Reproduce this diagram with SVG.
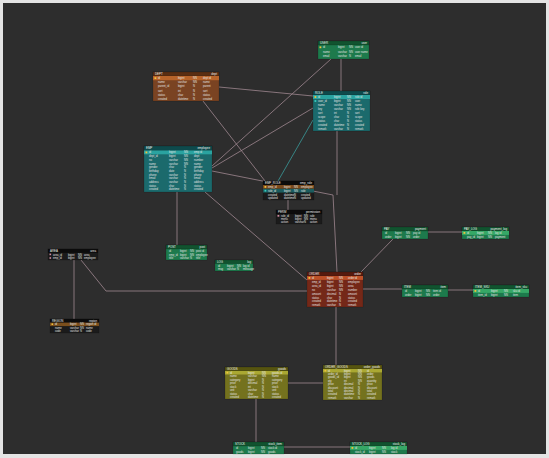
<svg xmlns="http://www.w3.org/2000/svg" width="549" height="458" viewBox="0 0 549 458">
<style>
text{font-family:"Liberation Sans",Arial,sans-serif;font-size:2.7px;fill:#e4e4e4}
.h{font-size:2.9px;fill:#f0f0f0}
.r{text-anchor:end}
.c{fill:none;stroke:#a08890;stroke-width:0.8}
.g .b{fill:#1d7a4c}.g .hd{fill:#11532f}.g .hl{fill:#36a866}
.br .b{fill:#7a4322}.br .hd{fill:#5a2e12}.br .hl{fill:#b8642a}
.tl .b{fill:#1b6a6c}.tl .hd{fill:#0e4a4c}.tl .hl{fill:#2aa3a0}
.dk .b{fill:#1b1b1b}.dk .hd{fill:#0c0c0c}
.rd .b{fill:#742818}.rd .hd{fill:#561a0e}.rd .hl{fill:#bc5028}
.yl .b{fill:#74721e}.yl .hd{fill:#565410}.yl .hl{fill:#aaa832}
.b,.hd{stroke:#000;stroke-opacity:.35;stroke-width:.4}
.k{fill:#f2c23a}.f{fill:#36d0c0}
</style>
<rect width="549" height="458" fill="#e4e4e4"/>
<rect x="3" y="3" width="543" height="451" fill="#2d2d2d"/>
<g id="connectors">
<path class="c" d="M341,59V91"/>
<path class="c" d="M331,59L212,166"/>
<path class="c" d="M219,87L313,96"/>
<path class="c" d="M313,108L212,168"/>
<path class="c" d="M203,101L265,181"/>
<path class="c" d="M212,171L333,195L337,272"/>
<path class="c" d="M337,131V195"/>
<path class="c" d="M313,120L278,181" style="stroke:#3a9a9a"/>
<path class="c" d="M288,200V210"/>
<path class="c" d="M177,192V245"/>
<path class="c" d="M205,192L307,280"/>
<path class="c" d="M74,260V319"/>
<path class="c" d="M81,260L106,291H307"/>
<path class="c" d="M393,239L361,272"/>
<path class="c" d="M428,232H462"/>
<path class="c" d="M363,289H402"/>
<path class="c" d="M448,290H473"/>
<path class="c" d="M336,307V365"/>
<path class="c" d="M288,383H323"/>
<path class="c" d="M256,399V442"/>
<path class="c" d="M284,447H350"/>
</g>
<g id="t_user" class="g" transform="translate(318,41)">
<rect class="b" width="51" height="18"/><rect class="hd" width="51" height="4"/>
<text class="h" x="2" y="3">USER</text><text class="h r" x="49" y="3">user</text>
<rect class="k" x="1.5" y="5.4" width="1.8" height="1.8"/>
<text y="7.4"><tspan x="5">id</tspan><tspan x="20">bigint</tspan><tspan x="31">NN</tspan><tspan x="37">user id</tspan></text>
<text y="11.9"><tspan x="5">name</tspan><tspan x="20">varchar</tspan><tspan x="31">NN</tspan><tspan x="37">user name</tspan></text>
<text y="16.4"><tspan x="5">email</tspan><tspan x="20">varchar</tspan><tspan x="31">N</tspan><tspan x="37">email</tspan></text>
</g>
<g id="t_dept" class="br" transform="translate(153,72)">
<rect class="b" width="66" height="29"/><rect class="hd" width="66" height="4"/>
<text class="h" x="2" y="3">DEPT</text><text class="h r" x="64" y="3">dept</text>
<rect class="hl" x="0" y="4" width="66" height="4.2"/>
<rect class="k" x="1.5" y="5.2" width="1.8" height="1.8"/>
<text y="7.2"><tspan x="5">id</tspan><tspan x="25">bigint</tspan><tspan x="40">NN</tspan><tspan x="50">dept id</tspan></text>
<text y="11.3"><tspan x="5">name</tspan><tspan x="25">varchar</tspan><tspan x="40">NN</tspan><tspan x="50">name</tspan></text>
<text y="15.4"><tspan x="5">parent_id</tspan><tspan x="25">bigint</tspan><tspan x="40">N</tspan><tspan x="50">parent</tspan></text>
<text y="19.5"><tspan x="5">sort</tspan><tspan x="25">int</tspan><tspan x="40">N</tspan><tspan x="50">sort</tspan></text>
<text y="23.6"><tspan x="5">status</tspan><tspan x="25">char</tspan><tspan x="40">N</tspan><tspan x="50">status</tspan></text>
<text y="27.7"><tspan x="5">created</tspan><tspan x="25">datetime</tspan><tspan x="40">N</tspan><tspan x="50">created</tspan></text>
</g>
<g id="t_role" class="tl" transform="translate(313,91)">
<rect class="b" width="57" height="40"/><rect class="hd" width="57" height="4"/>
<text class="h" x="2" y="3">ROLE</text><text class="h r" x="55" y="3">role</text>
<rect class="hl" x="0" y="4" width="57" height="4"/>
<rect class="k" x="1.5" y="5.1" width="1.8" height="1.8"/>
<text y="7.1"><tspan x="5">id</tspan><tspan x="21">bigint</tspan><tspan x="34">NN</tspan><tspan x="42">role id</tspan></text>
<rect class="f" x="1.5" y="9.1" width="1.8" height="1.8"/>
<text y="11.1"><tspan x="5">user_id</tspan><tspan x="21">bigint</tspan><tspan x="34">NN</tspan><tspan x="42">user</tspan></text>
<text y="15.1"><tspan x="5">name</tspan><tspan x="21">varchar</tspan><tspan x="34">NN</tspan><tspan x="42">name</tspan></text>
<text y="19.1"><tspan x="5">key</tspan><tspan x="21">varchar</tspan><tspan x="34">NN</tspan><tspan x="42">role key</tspan></text>
<text y="23.1"><tspan x="5">sort</tspan><tspan x="21">int</tspan><tspan x="34">N</tspan><tspan x="42">sort</tspan></text>
<text y="27.1"><tspan x="5">scope</tspan><tspan x="21">char</tspan><tspan x="34">N</tspan><tspan x="42">scope</tspan></text>
<text y="31.1"><tspan x="5">status</tspan><tspan x="21">char</tspan><tspan x="34">N</tspan><tspan x="42">status</tspan></text>
<text y="35.1"><tspan x="5">created</tspan><tspan x="21">datetime</tspan><tspan x="34">N</tspan><tspan x="42">created</tspan></text>
<text y="39.1"><tspan x="5">remark</tspan><tspan x="21">varchar</tspan><tspan x="34">N</tspan><tspan x="42">remark</tspan></text>
</g>
<g id="t_emp" class="tl" transform="translate(144,146)">
<rect class="b" width="68" height="46"/><rect class="hd" width="68" height="4.5"/>
<text class="h" x="2" y="3.3">EMP</text><text class="h r" x="66" y="3.3">employee</text>
<rect class="hl" x="0" y="4.5" width="68" height="3.8"/>
<rect class="k" x="1.5" y="5.5" width="1.8" height="1.8"/>
<text y="7.4"><tspan x="5">id</tspan><tspan x="25">bigint</tspan><tspan x="40">NN</tspan><tspan x="50">emp id</tspan></text>
<text y="11.1"><tspan x="5">dept_id</tspan><tspan x="25">bigint</tspan><tspan x="40">NN</tspan><tspan x="50">dept</tspan></text>
<text y="14.8"><tspan x="5">no</tspan><tspan x="25">varchar</tspan><tspan x="40">NN</tspan><tspan x="50">number</tspan></text>
<text y="18.5"><tspan x="5">name</tspan><tspan x="25">varchar</tspan><tspan x="40">NN</tspan><tspan x="50">name</tspan></text>
<text y="22.2"><tspan x="5">gender</tspan><tspan x="25">char</tspan><tspan x="40">N</tspan><tspan x="50">gender</tspan></text>
<text y="25.9"><tspan x="5">birthday</tspan><tspan x="25">date</tspan><tspan x="40">N</tspan><tspan x="50">birthday</tspan></text>
<text y="29.6"><tspan x="5">phone</tspan><tspan x="25">varchar</tspan><tspan x="40">N</tspan><tspan x="50">phone</tspan></text>
<text y="33.3"><tspan x="5">email</tspan><tspan x="25">varchar</tspan><tspan x="40">N</tspan><tspan x="50">email</tspan></text>
<text y="37"><tspan x="5">address</tspan><tspan x="25">varchar</tspan><tspan x="40">N</tspan><tspan x="50">address</tspan></text>
<text y="40.7"><tspan x="5">status</tspan><tspan x="25">char</tspan><tspan x="40">N</tspan><tspan x="50">status</tspan></text>
<text y="44.4"><tspan x="5">created</tspan><tspan x="25">datetime</tspan><tspan x="40">N</tspan><tspan x="50">created</tspan></text>
</g>
<g id="t_emp_role" class="dk" transform="translate(263,181)">
<rect class="b" width="51" height="19"/><rect class="hd" width="51" height="4"/>
<text class="h" x="2" y="3">EMP_ROLE</text><text class="h r" x="49" y="3">emp_role</text>
<rect x="0" y="4" width="51" height="3.8" fill="#7a4a1c"/>
<rect x="0" y="7.8" width="51" height="3.8" fill="#1c5c5e"/>
<rect class="k" x="1.5" y="5" width="1.8" height="1.8"/>
<rect class="f" x="1.5" y="8.8" width="1.8" height="1.8"/>
<text y="6.9"><tspan x="5">emp_id</tspan><tspan x="21">bigint</tspan><tspan x="31">NN</tspan><tspan x="38">employee</tspan></text>
<text y="10.7"><tspan x="5">role_id</tspan><tspan x="21">bigint</tspan><tspan x="31">NN</tspan><tspan x="38">role</tspan></text>
<text y="14.5"><tspan x="5">created</tspan><tspan x="21">datetime</tspan><tspan x="31">N</tspan><tspan x="38">created</tspan></text>
<text y="18.3"><tspan x="5">updated</tspan><tspan x="21">datetime</tspan><tspan x="31">N</tspan><tspan x="38">updated</tspan></text>
</g>
<g id="t_perm" class="dk" transform="translate(276,210)">
<rect class="b" width="46" height="14"/><rect class="hd" width="46" height="4"/>
<text class="h" x="2" y="3">PERM</text><text class="h r" x="44" y="3">permission</text>
<rect x="1.5" y="4.9" width="1.8" height="1.8" fill="#d08aa0"/>
<text y="6.8"><tspan x="5">role_id</tspan><tspan x="19">bigint</tspan><tspan x="28">NN</tspan><tspan x="34">role</tspan></text>
<text y="10"><tspan x="5">menu</tspan><tspan x="19">bigint</tspan><tspan x="28">NN</tspan><tspan x="34">menu</tspan></text>
<text y="13.2"><tspan x="5">action</tspan><tspan x="19">varchar</tspan><tspan x="28">N</tspan><tspan x="34">action</tspan></text>
</g>
<g id="t_post" class="g" transform="translate(166,245)">
<rect class="b" width="41" height="15"/><rect class="hd" width="41" height="4"/>
<text class="h" x="2" y="3">POST</text><text class="h r" x="39" y="3">post</text>
<text y="7.3"><tspan x="3">id</tspan><tspan x="14">bigint</tspan><tspan x="24">NN</tspan><tspan x="30">post id</tspan></text>
<text y="10.8"><tspan x="3">emp_id</tspan><tspan x="14">bigint</tspan><tspan x="24">NN</tspan><tspan x="30">employee</tspan></text>
<text y="14.3"><tspan x="3">title</tspan><tspan x="14">varchar</tspan><tspan x="24">N</tspan><tspan x="30">title</tspan></text>
</g>
<g id="t_log" class="g" transform="translate(215,260)">
<rect class="b" width="38" height="11"/><rect class="hd" width="38" height="3.6"/>
<text class="h" x="2" y="2.8">LOG</text><text class="h r" x="36" y="2.8">log</text>
<text y="6.8"><tspan x="3">id</tspan><tspan x="12">bigint</tspan><tspan x="22">NN</tspan><tspan x="28">log id</tspan></text>
<text y="10.3"><tspan x="3">msg</tspan><tspan x="12">varchar</tspan><tspan x="22">N</tspan><tspan x="28">message</tspan></text>
</g>
<g id="t_area" class="dk" transform="translate(48,249)">
<rect class="b" width="50" height="11"/><rect class="hd" width="50" height="3.6"/>
<text class="h" x="2" y="2.8">AREA</text><text class="h r" x="48" y="2.8">area</text>
<rect x="1.5" y="4.6" width="1.6" height="1.6" fill="#d08aa0"/>
<text y="6.6"><tspan x="5">area_id</tspan><tspan x="20">bigint</tspan><tspan x="30">NN</tspan><tspan x="36">area</tspan></text>
<rect x="1.5" y="8.2" width="1.6" height="1.6" fill="#d08aa0"/>
<text y="10.2"><tspan x="5">emp_id</tspan><tspan x="20">bigint</tspan><tspan x="30">NN</tspan><tspan x="36">employee</tspan></text>
</g>
<g id="t_region" class="dk" transform="translate(50,319)">
<rect class="b" width="49" height="14"/><rect class="hd" width="49" height="3.6"/>
<text class="h" x="2" y="2.8">REGION</text><text class="h r" x="47" y="2.8">region</text>
<rect x="0" y="3.6" width="49" height="3.5" fill="#7a4e1c"/>
<rect class="k" x="1.5" y="4.4" width="1.6" height="1.6"/>
<text y="6.3"><tspan x="5">id</tspan><tspan x="20">bigint</tspan><tspan x="30">NN</tspan><tspan x="36">region id</tspan></text>
<text y="9.8"><tspan x="5">name</tspan><tspan x="20">varchar</tspan><tspan x="30">NN</tspan><tspan x="36">name</tspan></text>
<text y="13.3"><tspan x="5">code</tspan><tspan x="20">varchar</tspan><tspan x="30">N</tspan><tspan x="36">code</tspan></text>
</g>
<g id="t_order" class="rd" transform="translate(307,272)">
<rect class="b" width="56" height="35"/><rect class="hd" width="56" height="4"/>
<text class="h" x="2" y="3">ORDER</text><text class="h r" x="54" y="3">order</text>
<rect class="hl" x="0" y="4" width="56" height="3.9"/>
<rect class="k" x="1.5" y="5" width="1.8" height="1.8"/>
<text y="7"><tspan x="5">id</tspan><tspan x="20">bigint</tspan><tspan x="32">NN</tspan><tspan x="41">order id</tspan></text>
<text y="10.9"><tspan x="5">emp_id</tspan><tspan x="20">bigint</tspan><tspan x="32">NN</tspan><tspan x="41">employee</tspan></text>
<text y="14.8"><tspan x="5">area_id</tspan><tspan x="20">bigint</tspan><tspan x="32">NN</tspan><tspan x="41">area</tspan></text>
<text y="18.7"><tspan x="5">no</tspan><tspan x="20">varchar</tspan><tspan x="32">NN</tspan><tspan x="41">number</tspan></text>
<text y="22.6"><tspan x="5">amount</tspan><tspan x="20">decimal</tspan><tspan x="32">N</tspan><tspan x="41">amount</tspan></text>
<text y="26.5"><tspan x="5">status</tspan><tspan x="20">char</tspan><tspan x="32">N</tspan><tspan x="41">status</tspan></text>
<text y="30.4"><tspan x="5">created</tspan><tspan x="20">datetime</tspan><tspan x="32">N</tspan><tspan x="41">created</tspan></text>
<text y="34.3"><tspan x="5">remark</tspan><tspan x="20">varchar</tspan><tspan x="32">N</tspan><tspan x="41">remark</tspan></text>
</g>
<g id="t_pay" class="g" transform="translate(382,227)">
<rect class="b" width="46" height="12"/><rect class="hd" width="46" height="4"/>
<text class="h" x="2" y="3">PAY</text><text class="h r" x="44" y="3">payment</text>
<text y="7.3"><tspan x="3">id</tspan><tspan x="13">bigint</tspan><tspan x="24">NN</tspan><tspan x="31">pay id</tspan></text>
<text y="11"><tspan x="3">order</tspan><tspan x="13">bigint</tspan><tspan x="24">NN</tspan><tspan x="31">order</tspan></text>
</g>
<g id="t_pay_log" class="g" transform="translate(462,227)">
<rect class="b" width="47" height="12"/><rect class="hd" width="47" height="4"/>
<text class="h" x="2" y="3">PAY_LOG</text><text class="h r" x="45" y="3">payment_log</text>
<rect class="hl" x="0" y="4" width="47" height="3.9"/>
<rect class="k" x="1.5" y="5" width="1.8" height="1.8"/>
<text y="7.3"><tspan x="5">id</tspan><tspan x="15">bigint</tspan><tspan x="26">NN</tspan><tspan x="33">log id</tspan></text>
<text y="11"><tspan x="5">pay_id</tspan><tspan x="15">bigint</tspan><tspan x="26">NN</tspan><tspan x="33">payment</tspan></text>
</g>
<g id="t_item" class="g" transform="translate(402,285)">
<rect class="b" width="46" height="12"/><rect class="hd" width="46" height="4"/>
<text class="h" x="2" y="3">ITEM</text><text class="h r" x="44" y="3">item</text>
<text y="7.3"><tspan x="3">id</tspan><tspan x="13">bigint</tspan><tspan x="24">NN</tspan><tspan x="31">item id</tspan></text>
<text y="11"><tspan x="3">order</tspan><tspan x="13">bigint</tspan><tspan x="24">NN</tspan><tspan x="31">order</tspan></text>
</g>
<g id="t_item_sku" class="g" transform="translate(473,285)">
<rect class="b" width="56" height="12"/><rect class="hd" width="56" height="4"/>
<text class="h" x="2" y="3">ITEM_SKU</text><text class="h r" x="54" y="3">item_sku</text>
<rect class="hl" x="0" y="4" width="56" height="3.9"/>
<rect class="k" x="1.5" y="5" width="1.8" height="1.8"/>
<text y="7.3"><tspan x="5">id</tspan><tspan x="18">bigint</tspan><tspan x="31">NN</tspan><tspan x="40">sku id</tspan></text>
<text y="11"><tspan x="5">item_id</tspan><tspan x="18">bigint</tspan><tspan x="31">NN</tspan><tspan x="40">item</tspan></text>
</g>
<g id="t_goods" class="yl" transform="translate(225,367)">
<rect class="b" width="63" height="32"/><rect class="hd" width="63" height="4"/>
<text class="h" x="2" y="3">GOODS</text><text class="h r" x="61" y="3">goods</text>
<rect class="hl" x="0" y="4" width="63" height="3.5"/>
<rect class="k" x="1.5" y="4.8" width="1.7" height="1.7"/>
<text y="6.7"><tspan x="5">id</tspan><tspan x="23">bigint</tspan><tspan x="37">NN</tspan><tspan x="47">goods id</tspan></text>
<text y="10.2"><tspan x="5">name</tspan><tspan x="23">varchar</tspan><tspan x="37">NN</tspan><tspan x="47">name</tspan></text>
<text y="13.7"><tspan x="5">category</tspan><tspan x="23">bigint</tspan><tspan x="37">N</tspan><tspan x="47">category</tspan></text>
<text y="17.2"><tspan x="5">price</tspan><tspan x="23">decimal</tspan><tspan x="37">N</tspan><tspan x="47">price</tspan></text>
<text y="20.7"><tspan x="5">stock</tspan><tspan x="23">int</tspan><tspan x="37">N</tspan><tspan x="47">stock</tspan></text>
<text y="24.2"><tspan x="5">unit</tspan><tspan x="23">varchar</tspan><tspan x="37">N</tspan><tspan x="47">unit</tspan></text>
<text y="27.7"><tspan x="5">status</tspan><tspan x="23">char</tspan><tspan x="37">N</tspan><tspan x="47">status</tspan></text>
<text y="31.2"><tspan x="5">created</tspan><tspan x="23">datetime</tspan><tspan x="37">N</tspan><tspan x="47">created</tspan></text>
</g>
<g id="t_order_goods" class="yl" transform="translate(323,365)">
<rect class="b" width="59" height="35"/><rect class="hd" width="59" height="4"/>
<text class="h" x="2" y="3">ORDER_GOODS</text><text class="h r" x="57" y="3">order_goods</text>
<rect class="hl" x="0" y="4" width="59" height="3.4"/>
<rect class="k" x="1.5" y="4.8" width="1.7" height="1.7"/>
<text y="6.6"><tspan x="5">id</tspan><tspan x="21">bigint</tspan><tspan x="35">NN</tspan><tspan x="44">id</tspan></text>
<text y="10"><tspan x="5">order_id</tspan><tspan x="21">bigint</tspan><tspan x="35">NN</tspan><tspan x="44">order</tspan></text>
<text y="13.4"><tspan x="5">goods_id</tspan><tspan x="21">bigint</tspan><tspan x="35">NN</tspan><tspan x="44">goods</tspan></text>
<text y="16.8"><tspan x="5">qty</tspan><tspan x="21">int</tspan><tspan x="35">NN</tspan><tspan x="44">quantity</tspan></text>
<text y="20.2"><tspan x="5">price</tspan><tspan x="21">decimal</tspan><tspan x="35">N</tspan><tspan x="44">price</tspan></text>
<text y="23.6"><tspan x="5">discount</tspan><tspan x="21">decimal</tspan><tspan x="35">N</tspan><tspan x="44">discount</tspan></text>
<text y="27"><tspan x="5">total</tspan><tspan x="21">decimal</tspan><tspan x="35">N</tspan><tspan x="44">total</tspan></text>
<text y="30.4"><tspan x="5">created</tspan><tspan x="21">datetime</tspan><tspan x="35">N</tspan><tspan x="44">created</tspan></text>
<text y="33.8"><tspan x="5">remark</tspan><tspan x="21">varchar</tspan><tspan x="35">N</tspan><tspan x="44">remark</tspan></text>
</g>
<g id="t_stock" class="g" transform="translate(233,442)">
<rect class="b" width="51" height="12"/><rect class="hd" width="51" height="4"/>
<text class="h" x="2" y="3">STOCK</text><text class="h r" x="49" y="3">stock_item</text>
<text y="7.3"><tspan x="3">id</tspan><tspan x="15">bigint</tspan><tspan x="28">NN</tspan><tspan x="35">stock id</tspan></text>
<text y="11"><tspan x="3">goods</tspan><tspan x="15">bigint</tspan><tspan x="28">NN</tspan><tspan x="35">goods</tspan></text>
</g>
<g id="t_stock_log" class="g" transform="translate(350,442)">
<rect class="b" width="57" height="12"/><rect class="hd" width="57" height="4"/>
<text class="h" x="2" y="3">STOCK_LOG</text><text class="h r" x="55" y="3">stock_log</text>
<rect class="hl" x="0" y="4" width="57" height="3.9"/>
<rect class="k" x="1.5" y="5" width="1.8" height="1.8"/>
<text y="7.3"><tspan x="5">id</tspan><tspan x="19">bigint</tspan><tspan x="32">NN</tspan><tspan x="41">log id</tspan></text>
<text y="11"><tspan x="5">stock_id</tspan><tspan x="19">bigint</tspan><tspan x="32">NN</tspan><tspan x="41">stock</tspan></text>
</g>
</svg>
